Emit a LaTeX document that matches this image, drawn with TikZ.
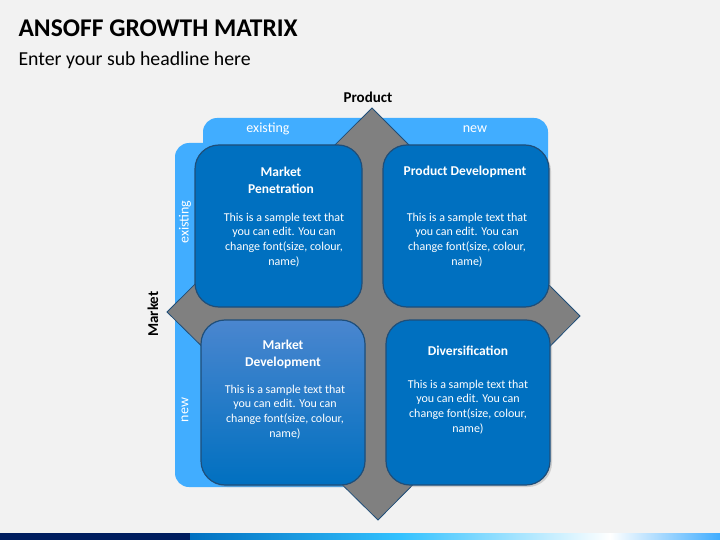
\documentclass[tikz,border=0pt]{standalone}
\usepackage{fontspec}
\setmainfont{Carlito}
\usetikzlibrary{shadows}
\definecolor{bg}{HTML}{F2F2F2}
\definecolor{lblue}{HTML}{41ADFF}
\definecolor{qblue}{HTML}{0070C0}
\definecolor{qdark}{HTML}{1F4E79}
\definecolor{qlight}{HTML}{4A86CF}
\definecolor{navy}{HTML}{001E5F}
\begin{document}
\begin{tikzpicture}[x=1pt,y=-1pt,
  band/.style={fill=lblue,rounded corners=14pt},
  quad/.style={fill=qblue,draw=qdark,line width=1.2pt,rounded corners=24pt,
     drop shadow={shadow xshift=2pt,shadow yshift=-2pt,opacity=.3}},
  ttl/.style={text=white,font=\bfseries\fontsize{13.5}{17}\selectfont,align=center},
  body/.style={text=white,font=\fontsize{12}{14.8}\selectfont,align=center},
  lab/.style={text=white,font=\fontsize{14}{16}\selectfont}]
\useasboundingbox (0,0) rectangle (720,540);
\fill[bg] (0,0) rectangle (720,540);
\node[anchor=west,font=\bfseries\fontsize{25.5}{29}\selectfont] (title) at (15,28) {ANSOFF GROWTH MATRIX};
\node[anchor=west,font=\fontsize{19.8}{23}\selectfont] (sub) at (15,60) {Enter your sub headline here};
% bands
\fill[band] (203,118) rectangle (548,300);
\fill[band] (175,143) rectangle (390,487);
% diamond
\draw[draw=qdark,line width=0.8pt,fill=black!50]
  (372,108) -- (580,316) -- (378,520) -- (167,312) -- cycle;
\node[lab] (ex1) at (268,129) {existing};
\node[lab] (nw1) at (475,129) {new};
\node[lab,rotate=90] (ex2) at (185,222) {existing};
\node[lab,rotate=90] (nw2) at (185,410) {new};
\node[font=\bfseries\fontsize{15}{17}\selectfont] (prod) at (368,97) {Product};
\node[font=\bfseries\fontsize{15}{17}\selectfont,rotate=90] (mkt) at (153,314) {Market};
% quadrants
\draw[quad] (195,145) rectangle (362,307);
\draw[quad] (383,145) rectangle (549,307);
\draw[quad,top color=qlight,bottom color=qblue] (201,320) rectangle (365,485);
\draw[quad] (386,320) rectangle (550,485);
\node[ttl] (t1) at (281,180) {Market\\Penetration};
\node[body] (b1) at (284,240) {This is a sample text that\\you can edit. You can\\change font(size, colour,\\name)};
\node[ttl] (t2) at (465,172) {Product Development};
\node[body] (b2) at (467,240) {This is a sample text that\\you can edit. You can\\change font(size, colour,\\name)};
\node[ttl] (t3) at (283,354) {Market\\Development};
\node[body] (b3) at (285,412) {This is a sample text that\\you can edit. You can\\change font(size, colour,\\name)};
\node[ttl] (t4) at (468,351) {Diversification};
\node[body] (b4) at (468,407) {This is a sample text that\\you can edit. You can\\change font(size, colour,\\name)};
% bottom strip
\fill[navy] (0,533) rectangle (190,540);
\shade[left color=qblue,right color=cyan!70!blue!80] (190,533) rectangle (400,540);
\shade[left color=cyan!70!blue!80,right color=white] (400,533) rectangle (610,540);
\shade[left color=white,right color=lblue] (610,533) rectangle (720,540);
\end{tikzpicture}
\end{document}
